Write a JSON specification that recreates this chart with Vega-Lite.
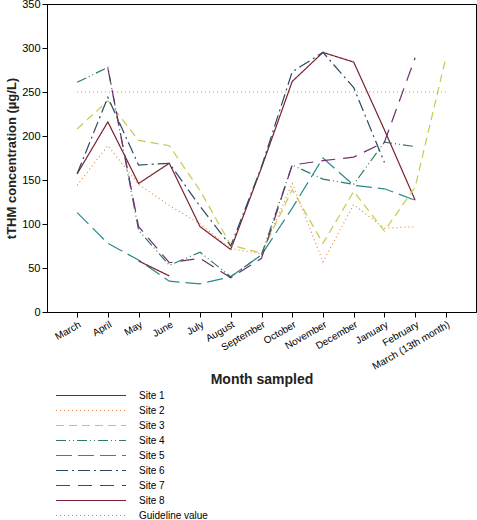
{
  "$schema": "https://vega.github.io/schema/vega-lite/v6.json",
  "autosize": "none",
  "padding": {"left": 47, "top": 4, "right": 1, "bottom": 208},
  "width": 429,
  "height": 308,
  "config": {
    "font": "Liberation Sans",
    "view": {"stroke": "#000000", "strokeWidth": 1},
    "axis": {"domainColor": "#000000", "tickColor": "#000000", "labelColor": "#000000", "titleColor": "#222222", "grid": false, "labelFont": "Liberation Sans", "titleFont": "Liberation Sans"},
    "legend": {
      "orient": "none", "legendX": 8, "legendY": 384, "direction": "vertical",
      "symbolType": "stroke", "symbolSize": 4900, "symbolStrokeWidth": 1.2, "clipHeight": 15,
      "labelOffset": 12, "labelFontSize": 10, "labelColor": "#000000", "rowPadding": 0, "padding": 0, "labelLimit": 200, "labelFont": "Liberation Sans"
    }
  },
  "data": {
    "values": [
      {"site": "Site 1", "month": "March", "value": 157},
      {"site": "Site 1", "month": "April", "value": 216},
      {"site": "Site 1", "month": "May", "value": 146},
      {"site": "Site 1", "month": "June", "value": 169},
      {"site": "Site 1", "month": "July", "value": 97},
      {"site": "Site 1", "month": "August", "value": 71},
      {"site": "Site 1", "month": "September", "value": 164},
      {"site": "Site 1", "month": "October", "value": 262},
      {"site": "Site 1", "month": "November", "value": 295},
      {"site": "Site 1", "month": "December", "value": 284},
      {"site": "Site 1", "month": "January", "value": 207},
      {"site": "Site 1", "month": "February", "value": 127},
      {"site": "Site 2", "month": "March", "value": 144},
      {"site": "Site 2", "month": "April", "value": 189},
      {"site": "Site 2", "month": "May", "value": 145},
      {"site": "Site 2", "month": "June", "value": 121},
      {"site": "Site 2", "month": "July", "value": 100},
      {"site": "Site 2", "month": "August", "value": 72},
      {"site": "Site 2", "month": "September", "value": 66},
      {"site": "Site 2", "month": "October", "value": 146},
      {"site": "Site 2", "month": "November", "value": 57},
      {"site": "Site 2", "month": "December", "value": 122},
      {"site": "Site 2", "month": "January", "value": 95},
      {"site": "Site 2", "month": "February", "value": 97},
      {"site": "Site 3", "month": "March", "value": 208},
      {"site": "Site 3", "month": "April", "value": 240},
      {"site": "Site 3", "month": "May", "value": 195},
      {"site": "Site 3", "month": "June", "value": 189},
      {"site": "Site 3", "month": "July", "value": 138},
      {"site": "Site 3", "month": "August", "value": 76},
      {"site": "Site 3", "month": "September", "value": 67},
      {"site": "Site 3", "month": "October", "value": 139},
      {"site": "Site 3", "month": "November", "value": 78},
      {"site": "Site 3", "month": "December", "value": 137},
      {"site": "Site 3", "month": "January", "value": 92},
      {"site": "Site 3", "month": "February", "value": 142},
      {"site": "Site 3", "month": "March (13th month)", "value": 289},
      {"site": "Site 4", "month": "March", "value": 261},
      {"site": "Site 4", "month": "April", "value": 278},
      {"site": "Site 4", "month": "May", "value": 93},
      {"site": "Site 4", "month": "June", "value": 53},
      {"site": "Site 4", "month": "July", "value": 68},
      {"site": "Site 4", "month": "August", "value": 40},
      {"site": "Site 4", "month": "September", "value": 65},
      {"site": "Site 4", "month": "October", "value": 167},
      {"site": "Site 4", "month": "November", "value": 151},
      {"site": "Site 4", "month": "December", "value": 145},
      {"site": "Site 4", "month": "January", "value": 193},
      {"site": "Site 4", "month": "February", "value": 188},
      {"site": "Site 5", "month": "March", "value": 113},
      {"site": "Site 5", "month": "April", "value": 78},
      {"site": "Site 5", "month": "May", "value": 59},
      {"site": "Site 5", "month": "June", "value": 35},
      {"site": "Site 5", "month": "July", "value": 32},
      {"site": "Site 5", "month": "August", "value": 40},
      {"site": "Site 5", "month": "September", "value": 65},
      {"site": "Site 5", "month": "October", "value": 118},
      {"site": "Site 5", "month": "November", "value": 175},
      {"site": "Site 5", "month": "December", "value": 144},
      {"site": "Site 5", "month": "January", "value": 140},
      {"site": "Site 5", "month": "February", "value": 127},
      {"site": "Site 6", "month": "March", "value": 157},
      {"site": "Site 6", "month": "April", "value": 244},
      {"site": "Site 6", "month": "May", "value": 167},
      {"site": "Site 6", "month": "June", "value": 169},
      {"site": "Site 6", "month": "July", "value": 120},
      {"site": "Site 6", "month": "August", "value": 75},
      {"site": "Site 6", "month": "September", "value": 165},
      {"site": "Site 6", "month": "October", "value": 273},
      {"site": "Site 6", "month": "November", "value": 295},
      {"site": "Site 6", "month": "December", "value": 255},
      {"site": "Site 6", "month": "January", "value": 170},
      {"site": "Site 7", "month": "April", "value": 277},
      {"site": "Site 7", "month": "May", "value": 97},
      {"site": "Site 7", "month": "June", "value": 56},
      {"site": "Site 7", "month": "July", "value": 61},
      {"site": "Site 7", "month": "August", "value": 39},
      {"site": "Site 7", "month": "September", "value": 61},
      {"site": "Site 7", "month": "October", "value": 167},
      {"site": "Site 7", "month": "November", "value": 172},
      {"site": "Site 7", "month": "December", "value": 176},
      {"site": "Site 7", "month": "January", "value": 193},
      {"site": "Site 7", "month": "February", "value": 289},
      {"site": "Site 8", "month": "May", "value": 58},
      {"site": "Site 8", "month": "June", "value": 41},
      {"site": "Guideline value", "month": "March", "value": 250},
      {"site": "Guideline value", "month": "March (13th month)", "value": 250}
    ]
  },
  "mark": {"type": "line", "strokeWidth": 1.2},
  "encoding": {
    "x": {
      "field": "month", "type": "ordinal",
      "sort": ["March", "April", "May", "June", "July", "August", "September", "October", "November", "December", "January", "February", "March (13th month)"],
      "scale": {"type": "point", "padding": 0.98},
      "axis": {"title": "Month sampled", "titleFontSize": 14, "titleFontWeight": "bold", "labelAngle": -30, "labelFontSize": 10, "tickSize": 5, "labelPadding": 2, "titlePadding": 1}
    },
    "y": {
      "field": "value", "type": "quantitative",
      "scale": {"domain": [0, 350], "nice": false},
      "axis": {"title": "tTHM concentration (µg/L)", "titleFontSize": 13, "titleFontWeight": "bold", "values": [0, 50, 100, 150, 200, 250, 300, 350], "labelFontSize": 11, "tickSize": 5, "labelPadding": 2, "titlePadding": 3}
    },
    "color": {
      "field": "site", "type": "nominal",
      "scale": {
        "domain": ["Site 1", "Site 2", "Site 3", "Site 4", "Site 5", "Site 6", "Site 7", "Site 8", "Guideline value"],
        "range": ["#7a2030", "#e38a4a", "#c9c94f", "#2f7a62", "#2b8a8c", "#2c4868", "#6e2e6e", "#7a2030", "#e38a4a"]
      },
      "legend": {
        "title": null,
        "encode": {"symbols": {"update": {"strokeDash": {"scale": "strokeDash", "field": "value"}, "stroke": {"scale": "color", "field": "value"}}}}
      }
    },
    "strokeDash": {
      "field": "site", "type": "nominal",
      "scale": {
        "domain": ["Site 1", "Site 2", "Site 3", "Site 4", "Site 5", "Site 6", "Site 7", "Site 8", "Guideline value"],
        "range": [[1, 0], [1, 3], [8, 5], [10, 3, 1, 3, 1, 3], [16, 6], [12, 4, 2, 4], [14, 8], [1, 0], [1, 3]]
      },
      "legend": null
    }
  }
}
